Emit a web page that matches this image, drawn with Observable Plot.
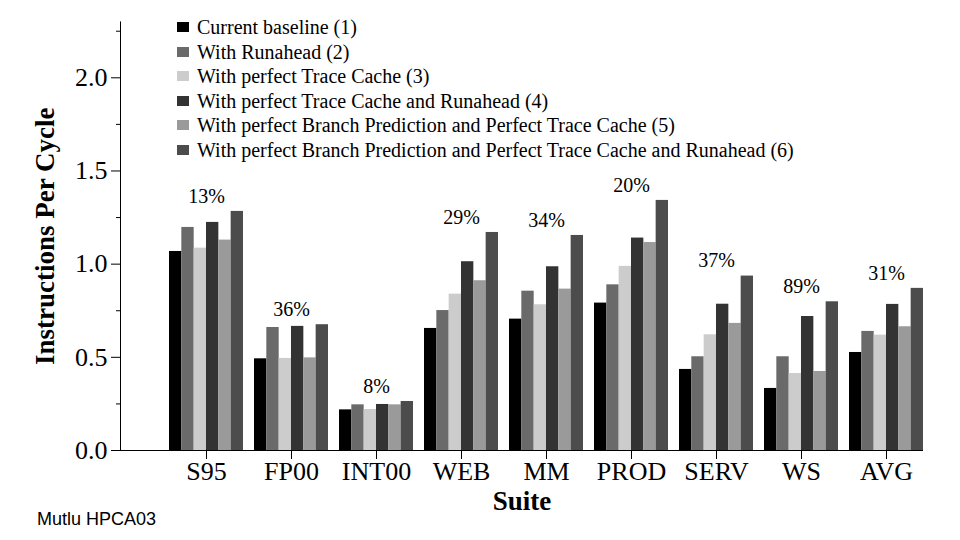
<!DOCTYPE html>
<html><head><meta charset="utf-8">
<script src="https://cdn.jsdelivr.net/npm/d3@7"></script>
<script src="https://cdn.jsdelivr.net/npm/@observablehq/plot@0.6"></script>
<style>
body{margin:0;background:#fff;}
#wrap{position:relative;width:960px;height:540px;font-family:"Liberation Serif","Times New Roman",serif;}
#legend{position:absolute;left:177px;top:15px;font-size:20px;color:#000;font-family:"Liberation Serif","Times New Roman",serif;}
#legend .row{height:24.5px;line-height:24.5px;white-space:nowrap;display:flex;align-items:center;}
#legend .sw{width:12px;height:10px;margin-right:8px;flex:none;}
#legend span{font-family:"Liberation Serif","Times New Roman",serif;}
#caption{position:absolute;left:37px;top:509px;font-family:"Liberation Sans",Arial,sans-serif;font-size:18px;color:#000;}
svg text{font-family:"Liberation Serif","Times New Roman",serif;}
svg g[aria-label="y-axis label"] text, svg g[aria-label="x-axis label"] text{font-weight:bold;font-size:27px;}
</style></head><body><div id="wrap"><div id="chart"></div><div id="legend"></div><div id="caption">Mutlu HPCA03</div></div>
<script>
const suites = ["S95","FP00","INT00","WEB","MM","PROD","SERV","WS","AVG"];
const seriesNames = [
  "Current baseline (1)",
  "With Runahead (2)",
  "With perfect Trace Cache (3)",
  "With perfect Trace Cache and Runahead (4)",
  "With perfect Branch Prediction and Perfect Trace Cache (5)",
  "With perfect Branch Prediction and Perfect Trace Cache and Runahead (6)"
];
const seriesColors = ["#000000","#6a6a6a","#cccccc","#333333","#9a9a9a","#4c4c4c"];
const baseline   = [1.068, 0.492, 0.218, 0.655, 0.705, 0.791, 0.435, 0.333, 0.526];
const runahead   = [1.197, 0.660, 0.245, 0.751, 0.855, 0.889, 0.503, 0.503, 0.639];
const perfTC     = [1.086, 0.494, 0.220, 0.839, 0.782, 0.988, 0.621, 0.413, 0.619];
const perfTCRA   = [1.224, 0.666, 0.247, 1.013, 0.986, 1.140, 0.785, 0.719, 0.784];
const perfBPTC   = [1.129, 0.497, 0.245, 0.911, 0.866, 1.116, 0.682, 0.424, 0.664];
const perfBPTCRA = [1.283, 0.675, 0.263, 1.170, 1.154, 1.342, 0.936, 0.798, 0.870];
const pctLabels  = ["13%","36%","8%","29%","34%","20%","37%","89%","31%"];
const yMajorTicks = [0, 0.5, 1.0, 1.5, 2.0];
const yMinorTicks = [0.25, 0.75, 1.25, 1.75, 2.25];

const seriesValues = [baseline, runahead, perfTC, perfTCRA, perfBPTC, perfBPTCRA];
const rows = [];
seriesValues.forEach((vals, k) => vals.forEach((v, i) => rows.push({suite: suites[i], k, value: v})));
const pctRows = suites.map((s, i) => ({suite: s, pct: pctLabels[i], top: d3.max(seriesValues, a => a[i])}));

const xRange = [156.9, 934.2], pad = 0.131;
const step = (xRange[1] - xRange[0]) / (suites.length + pad);
const bw = step * (1 - pad);
const barW = bw / 6;
const pxPerUnit = 186.35, y0 = 450, yMax = 2.3;
const serif = "'Liberation Serif', 'Times New Roman', serif";

const barMarks = seriesNames.map((name, k) => Plot.barY(rows.filter(r => r.k === k), {
  x: "suite", y: "value", fill: seriesColors[k],
  insetLeft: k * barW, insetRight: (5 - k) * barW
}));

const chart = Plot.plot({
  width: 960, height: 540,
  marginLeft: 120, marginRight: 37, marginTop: y0 - yMax * pxPerUnit, marginBottom: 540 - y0,
  style: {fontFamily: serif, fontSize: "26px", color: "#000", background: "#fff"},
  x: {domain: suites, range: xRange, padding: pad},
  y: {domain: [0, yMax], range: [y0, y0 - yMax * pxPerUnit]},
  marks: [
    ...barMarks,
    Plot.ruleY([0], {stroke: "#000", strokeWidth: 1.2}),
    Plot.frame({anchor: "left", stroke: "#000", strokeWidth: 1}),
    Plot.axisY({ticks: yMajorTicks, tickFormat: d3.format(".1f"), tickSize: 9, tickPadding: 4, fontSize: 26,
      label: "Instructions Per Cycle", labelArrow: false, labelAnchor: "center", labelOffset: 86}),
    Plot.axisY({ticks: yMinorTicks, tickSize: 4, tickFormat: () => "", label: null}),
    Plot.axisX({tickSize: 9, tickPadding: 2, fontSize: 26, label: "Suite", labelArrow: false, labelAnchor: "center", labelOffset: 59}),
    Plot.text(pctRows, {x: "suite", y: "top", text: "pct", dy: -15, fontSize: 20, fontFamily: serif, fill: "#000"})
  ]
});
document.getElementById("chart").appendChild(chart);

const legend = d3.select("#legend");
seriesNames.forEach((name, k) => {
  const row = legend.append("div").attr("class", "row");
  row.append("div").attr("class", "sw").style("background", seriesColors[k]);
  row.append("span").text(name);
});
</script></body></html>
